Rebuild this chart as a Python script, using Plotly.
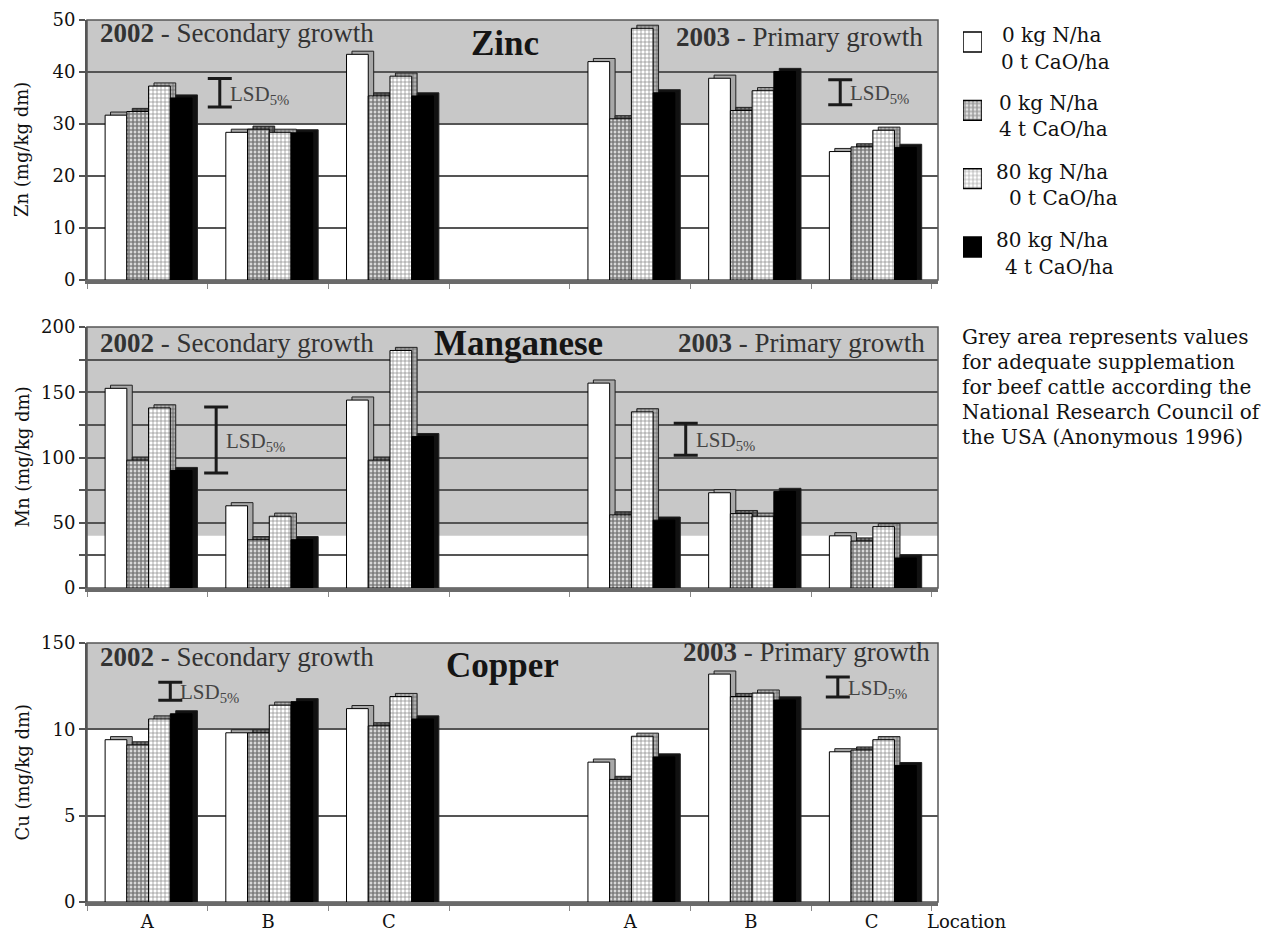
import plotly.graph_objects as go

# ---------------------------------------------------------------- data
locations = ["A", "B", "C", "A", "B", "C"]
slot = [0, 1, 2, 4, 5, 6]  # slot 3 is the gap between the 2002 and 2003 seasons

# Zn (mg/kg dm) per location, one list per treatment
zn_n0_ca0 = [31.7, 28.4, 43.4, 42.0, 38.8, 24.7]
zn_n0_ca4 = [32.4, 29.0, 35.4, 31.0, 32.6, 25.6]
zn_n80_ca0 = [37.3, 28.4, 39.2, 48.4, 36.4, 28.8]
zn_n80_ca4 = [35.0, 28.3, 35.4, 36.0, 40.1, 25.5]

# Mn (mg/kg dm)
mn_n0_ca0 = [153, 63, 144, 157, 73, 40]
mn_n0_ca4 = [98, 37, 98, 56, 57, 36]
mn_n80_ca0 = [138, 55, 182, 135, 55, 47]
mn_n80_ca4 = [90, 37, 116, 52, 74, 23]

# Cu (mg/kg dm)
cu_n0_ca0 = [9.4, 9.8, 11.2, 8.1, 13.2, 8.7]
cu_n0_ca4 = [9.1, 9.8, 10.2, 7.1, 11.9, 8.8]
cu_n80_ca0 = [10.6, 11.4, 11.9, 9.6, 12.1, 9.4]
cu_n80_ca4 = [10.9, 11.6, 10.6, 8.4, 11.7, 7.9]

# adequate supplementation threshold (grey band starts here)
adequate_min = [30, 40, 10]
axis_max = [50, 200, 15]

# LSD 5 % bars: x position (slot units), mid value, half length
lsd_x_2002 = [0.60, 0.57, 0.19]
lsd_x_2003 = [5.74, 4.46, 5.72]
lsd_mid_2002 = [36.0, 113.4, 12.2]
lsd_mid_2003 = [36.1, 114.0, 12.45]
lsd_half_2002 = [2.75, 25.3, 0.52]
lsd_half_2003 = [2.4, 12.2, 0.58]

panel_names = ["Zinc", "Manganese", "Copper"]
y_titles = ["Zn (mg/kg dm)", "Mn (mg/kg dm)", "Cu (mg/kg dm)"]
legend_line1 = ["0 kg N/ha", "0 kg N/ha", "80 kg N/ha", "80 kg N/ha"]
legend_line2 = ["0 t CaO/ha", "4 t CaO/ha", "0 t CaO/ha", "4 t CaO/ha"]
note_lines = ["Grey area represents values",
              "for adequate supplemation",
              "for beef cattle according the",
              "National Research Council of",
              "the USA (Anonymous 1996)"]

# ---------------------------------------------------------------- layout helpers
W, H = 1267, 932
ML, MR, MT, MB = 87, 10, 18, 30
PW, PH = W - ML - MR, H - MT - MB


def px_x(px):
    return (px - ML) / PW


def px_y(py):
    return (H - MB - py) / PH


SERIF = "DejaVu Serif"
TIMES = "Liberation Serif"

panels = [
    dict(vals=[zn_n0_ca0, zn_n0_ca4, zn_n80_ca0, zn_n80_ca4], dom=(280, 20),
         ticks=[0, 10, 20, 30, 40, 50], ticktext=None, minor=None,
         text_y=(33, 43, 37), title_x=505, right_x=925),
    dict(vals=[mn_n0_ca0, mn_n0_ca4, mn_n80_ca0, mn_n80_ca4], dom=(588, 327),
         ticks=[0, 50, 100, 150, 200], ticktext=None, minor=25,
         text_y=(343, 343, 343), title_x=518, right_x=927),
    dict(vals=[cu_n0_ca0, cu_n0_ca4, cu_n80_ca0, cu_n80_ca4], dom=(902, 643),
         ticks=[0, 5, 10, 15], ticktext=["0", "5", "10", "150"], minor=None,
         text_y=(657, 665, 652), title_x=502, right_x=932),
]

DOTS = dict(shape=".", fgcolor="black", size=4, solidity=0.75)
GRID = dict(shape="+", fgcolor="#111", size=4, solidity=0.32)

# bar styles per treatment: front faces and side/top faces
front_style = [
    dict(color="white", pattern=dict(shape="")),
    dict(color="white", pattern=dict(bgcolor="white", **DOTS)),
    dict(color="white", pattern=dict(bgcolor="white", **GRID)),
    dict(color="black", pattern=dict(shape="")),
]
side_style = [
    dict(color="#a8a8a8", pattern=dict(shape="")),
    dict(color="#888", pattern=dict(bgcolor="#8a8a8a", **DOTS)),
    dict(color="#aaa", pattern=dict(bgcolor="#b0b0b0", **GRID)),
    dict(color="#111", pattern=dict(shape="")),
]

BAR_W = 0.18
BAR_START = -0.35
DEPTH_X = 0.045
DEPTH_Y_FRAC = 0.012

fig = go.Figure()
shapes, annotations = [], []
x_dom = [0, px_x(938)]
x_range = [-0.5, 6.55]
boundaries = [i - 0.5 for i in range(8)]

for p, cfg in enumerate(panels):
    n = "" if p == 0 else str(p + 1)
    xa, ya = "x" + n, "y" + n
    dy = axis_max[p] * DEPTH_Y_FRAC

    # side/top faces first, then front faces
    for s, series in enumerate(cfg["vals"]):
        fig.add_trace(go.Bar(
            x=slot, y=[v + dy for v in series], xaxis=xa, yaxis=ya,
            offset=BAR_START + s * BAR_W + DEPTH_X, width=BAR_W,
            marker=dict(line=dict(color="#222", width=1), **side_style[s]),
            showlegend=False, hoverinfo="skip"))
    for s, series in enumerate(cfg["vals"]):
        fig.add_trace(go.Bar(
            x=slot, y=series, xaxis=xa, yaxis=ya,
            offset=BAR_START + s * BAR_W, width=BAR_W,
            marker=dict(line=dict(color="black", width=1), **front_style[s]),
            name=legend_line1[s] + " " + legend_line2[s], showlegend=False))

    # LSD bars
    fig.add_trace(go.Scatter(
        x=[lsd_x_2002[p], lsd_x_2003[p]], y=[lsd_mid_2002[p], lsd_mid_2003[p]],
        xaxis=xa, yaxis=ya, mode="markers", marker=dict(size=1, opacity=0),
        error_y=dict(type="data", array=[lsd_half_2002[p], lsd_half_2003[p]],
                     color="#1a1a1a", thickness=3, width=12),
        showlegend=False, hoverinfo="skip"))
    for lx, lm in ((lsd_x_2002[p], lsd_mid_2002[p]), (lsd_x_2003[p], lsd_mid_2003[p])):
        annotations.append(dict(x=lx, y=lm, xref=xa, yref=ya, text="LSD<sub>5%</sub>",
                                showarrow=False, xanchor="left", xshift=8, yshift=-2,
                                font=dict(family=TIMES, size=21, color="#444")))

    d0, d1 = px_y(cfg["dom"][0]), px_y(cfg["dom"][1])
    fig.update_layout(**{
        ("xaxis" + n): dict(
            domain=x_dom, range=x_range, anchor=ya, showgrid=False, zeroline=False,
            automargin=False,
            showline=True, linecolor="#6a6a6a", linewidth=4,
            tickvals=slot, ticktext=locations, ticks="",
            showticklabels=(p == 2), tickfont=dict(family=SERIF, size=18, color="#111"),
            minor=dict(tickvals=boundaries, ticks="outside", ticklen=5, tickcolor="#888")),
        ("yaxis" + n): dict(
            domain=[d0, d1], range=[0, axis_max[p]], anchor=xa, automargin=False,
            tickvals=cfg["ticks"], ticktext=cfg["ticktext"] or [str(t) for t in cfg["ticks"]],
            ticks="outside", ticklen=6, tickcolor="#555", tickwidth=1.5,
            showline=True, linecolor="#555", linewidth=2,
            showgrid=True, gridcolor="#555", gridwidth=1.5, zeroline=False,
            tickfont=dict(family=SERIF, size=18, color="#111"),
            **({"minor": dict(dtick=cfg["minor"], showgrid=True, gridcolor="#555", gridwidth=1.5,
                              ticks="outside", ticklen=6, tickcolor="#555")} if cfg["minor"] else {})),
    })

    # grey band of adequate values, wall outline
    shapes.append(dict(type="rect", xref=xa + " domain", yref=ya, x0=0, x1=1,
                       y0=adequate_min[p], y1=axis_max[p], fillcolor="#c8c8c8",
                       line=dict(width=0), layer="below"))
    shapes.append(dict(type="rect", xref=xa + " domain", yref=ya + " domain", x0=0, x1=1,
                       y0=0, y1=1, line=dict(color="#555", width=1.5), layer="below"))

    # panel texts
    ty = cfg["text_y"]
    annotations.append(dict(x=px_x(98), y=px_y(ty[0]), xref="paper", yref="paper",
                            text="<b>2002</b> - Secondary growth", showarrow=False,
                            xanchor="left", yanchor="middle",
                            font=dict(family=TIMES, size=27, color="#333")))
    annotations.append(dict(x=px_x(cfg["title_x"]), y=px_y(ty[1]), xref="paper", yref="paper",
                            text="<b>" + panel_names[p] + "</b>", showarrow=False,
                            xanchor="center", yanchor="middle",
                            font=dict(family=TIMES, size=35, color="#151515")))
    annotations.append(dict(x=px_x(cfg["right_x"]), y=px_y(ty[2]), xref="paper", yref="paper",
                            text="<b>2003</b> - Primary growth", showarrow=False,
                            xanchor="right", yanchor="middle",
                            font=dict(family=TIMES, size=27, color="#333")))
    # y title
    annotations.append(dict(x=px_x(22), y=(d0 + d1) / 2, xref="paper", yref="paper",
                            text=y_titles[p], textangle=-90, showarrow=False,
                            xanchor="center", yanchor="middle",
                            font=dict(family=SERIF, size=18, color="#111")))

annotations.append(dict(x=px_x(925), y=px_y(922), xref="paper", yref="paper", text="Location",
                        showarrow=False, xanchor="left", yanchor="middle",
                        font=dict(family=SERIF, size=18, color="#111")))

# ---------------------------------------------------------------- legend keys
legend_rows = [0, 1, 2, 3]
fig.add_trace(go.Bar(
    y=legend_rows, x=[1, 1, 1, 1], base=0, orientation="h", width=0.29,
    xaxis="x4", yaxis="y4",
    marker=dict(color=["white", "white", "white", "black"],
                line=dict(color="black", width=1.5),
                pattern=dict(shape=["", ".", "+", ""], fgcolor="black",
                             bgcolor=["white", "white", "white", "black"],
                             size=4, solidity=[0.5, 0.75, 0.32, 0.5])),
    showlegend=False, hoverinfo="skip"))
fig.update_layout(
    xaxis4=dict(domain=[px_x(963), px_x(982)], range=[0, 1], anchor="y4", visible=False,
                automargin=False),
    yaxis4=dict(domain=[px_y(267.5), px_y(21.5)], range=[3.3, -0.3], anchor="x4", visible=False,
                automargin=False),
)
legend_text_pos = [((1000, 35), (999, 62)), ((997, 103), (997, 129)),
                   ((994, 172), (1007, 198)), ((994, 240), (1003, 267))]
for i, ((x1, y1), (x2, y2)) in enumerate(legend_text_pos):
    for txt, (tx, tyy) in ((legend_line1[i], (x1, y1)), (legend_line2[i], (x2, y2))):
        annotations.append(dict(x=px_x(tx), y=px_y(tyy), xref="paper", yref="paper", text=txt,
                                showarrow=False, xanchor="left", yanchor="middle",
                                font=dict(family=SERIF, size=20, color="#111")))

for k, line in enumerate(note_lines):
    annotations.append(dict(x=px_x(960), y=px_y(337 + 25 * k), xref="paper", yref="paper",
                            text=line, showarrow=False, xanchor="left", yanchor="middle",
                            font=dict(family=SERIF, size=20, color="#111")))

fig.update_layout(
    width=W, height=H, margin=dict(l=ML, r=MR, t=MT, b=MB, autoexpand=False),
    barmode="overlay", paper_bgcolor="white", plot_bgcolor="white",
    shapes=shapes, annotations=annotations, showlegend=False,
)

fig.write_html("out.html")
